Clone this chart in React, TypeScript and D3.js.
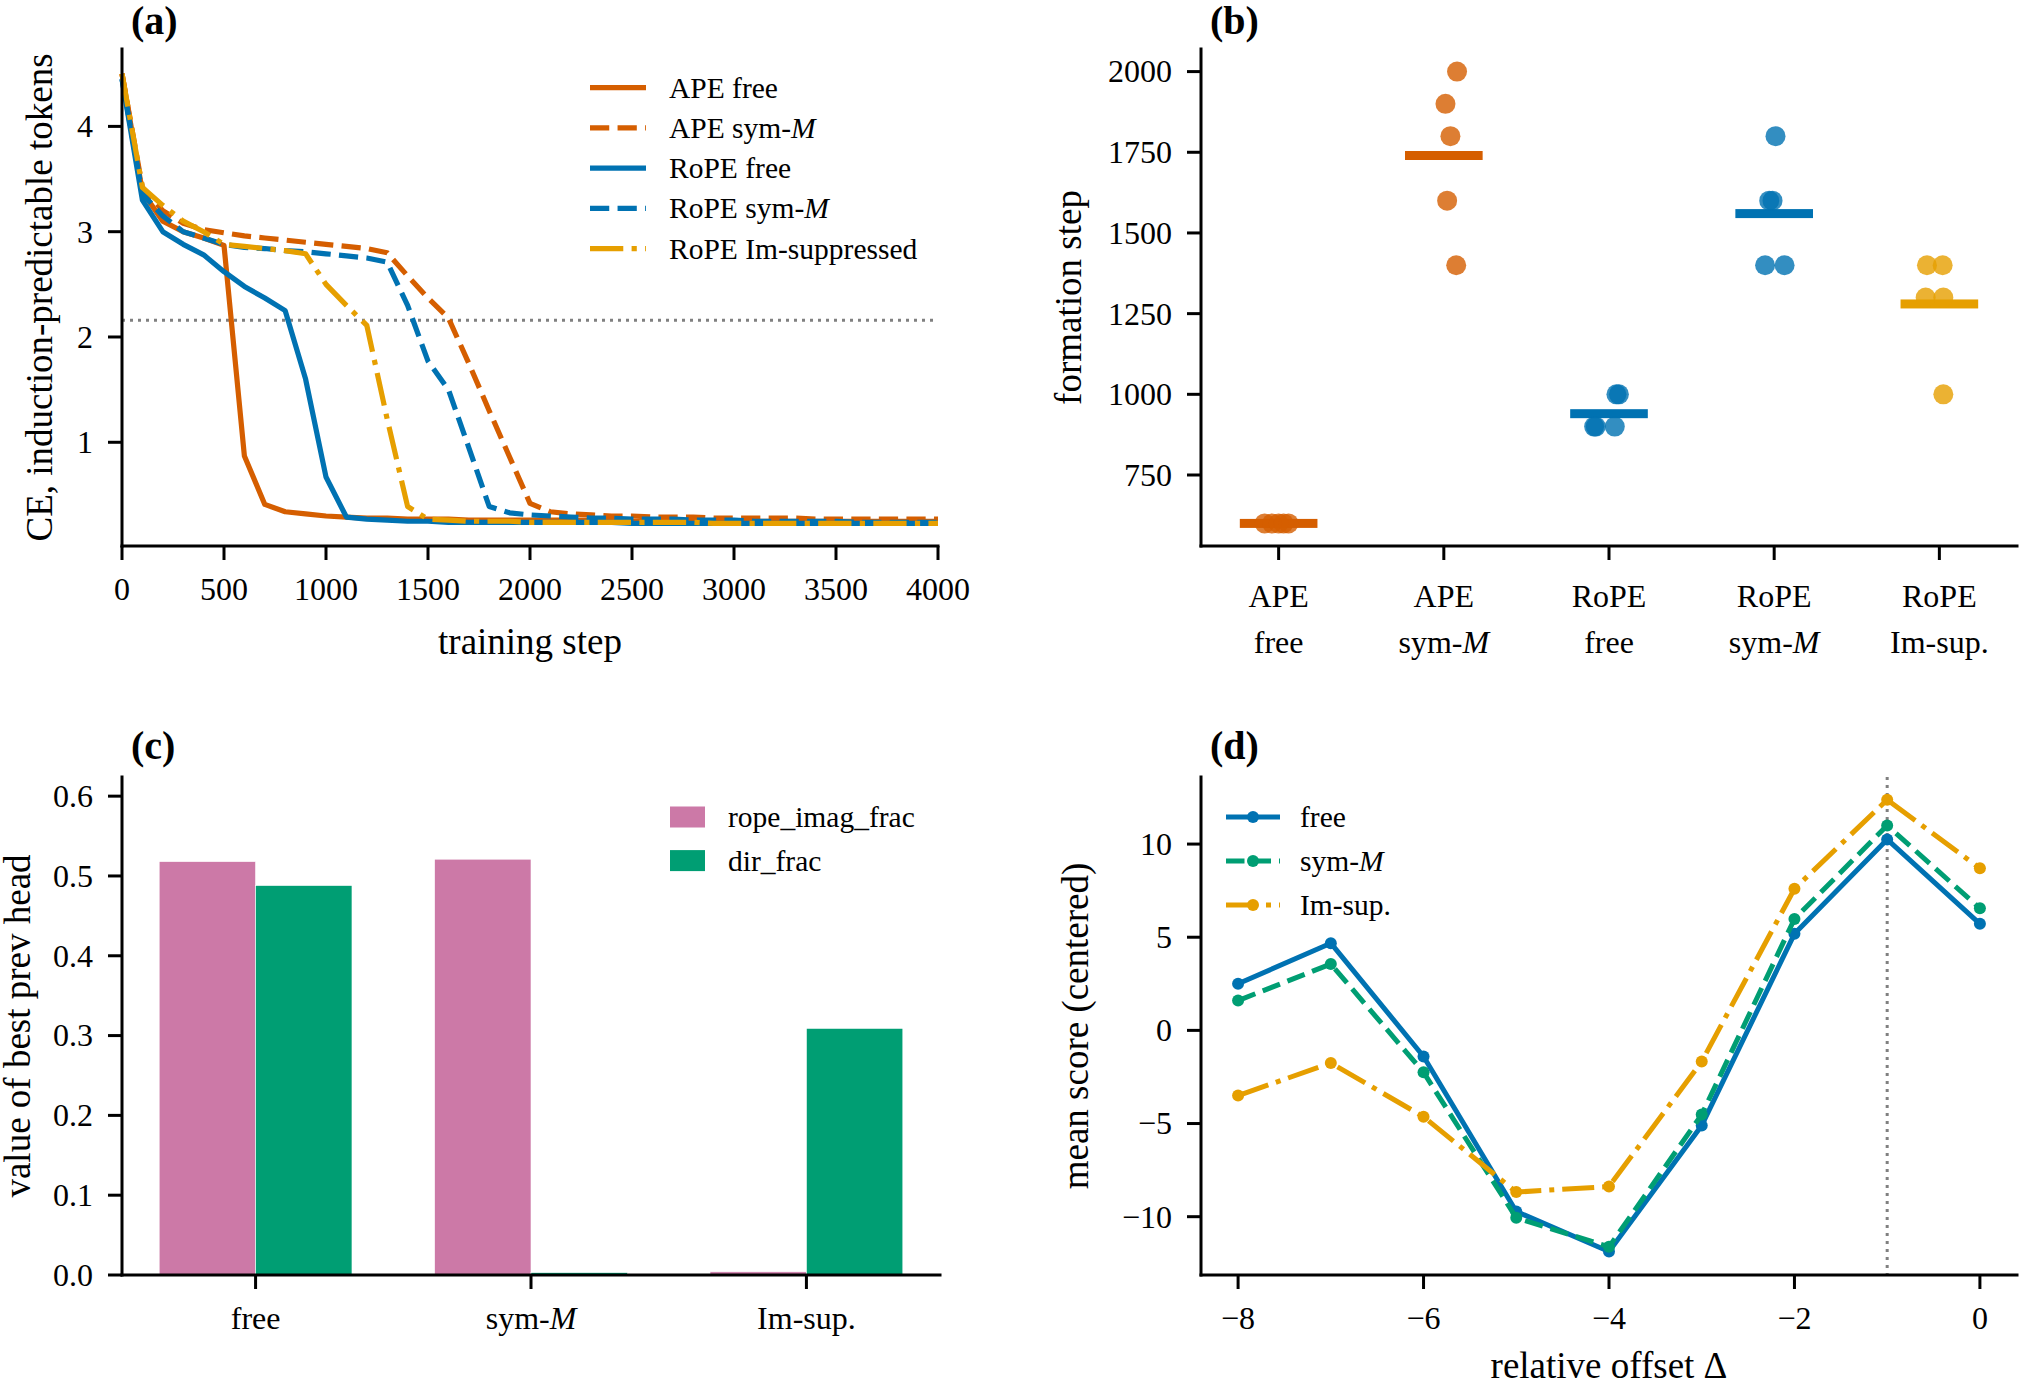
import React from 'react';
import * as d3 from 'd3';

const W = 2020;
const H = 1381;
const FONT = '"Liberation Serif", "Times New Roman", serif';

const ORANGE = '#D55E00';
const BLUE = '#0072B2';
const YELLOW = '#E69F00';
const GREEN = '#009E73';
const PINK = '#CC79A7';
const GRAY = '#808080';

// ---- (a) CE on induction-predictable tokens vs training step
const steps = d3.range(0, 4001, 100);
const apeFree = [4.5, 3.38, 3.1, 3.0, 2.94, 2.87, 0.87, 0.41, 0.34, 0.32, 0.3, 0.29, 0.28, 0.28, 0.27, 0.27, 0.27,
  0.26, 0.26, 0.26, 0.26, 0.26, 0.26, 0.26, 0.26, 0.25, 0.25, 0.25, 0.25, 0.25, 0.25, 0.25, 0.25, 0.25, 0.25, 0.25,
  0.25, 0.25, 0.25, 0.25, 0.25];
const apeSym = [4.5, 3.42, 3.2, 3.08, 3.02, 2.99, 2.96, 2.94, 2.92, 2.9, 2.88, 2.86, 2.84, 2.8, 2.58, 2.37, 2.18, 1.75,
  1.3, 0.86, 0.42, 0.34, 0.32, 0.31, 0.3, 0.3, 0.29, 0.29, 0.29, 0.28, 0.28, 0.28, 0.28, 0.28, 0.27, 0.27, 0.27, 0.27,
  0.27, 0.27, 0.27];
const ropeFree = [4.45, 3.3, 3.0, 2.88, 2.78, 2.62, 2.48, 2.37, 2.25, 1.6, 0.67, 0.29, 0.27, 0.26, 0.25, 0.25, 0.24,
  0.24, 0.24, 0.24, 0.24, 0.24, 0.24, 0.24, 0.24, 0.23, 0.23, 0.23, 0.23, 0.23, 0.23, 0.23, 0.23, 0.23, 0.23, 0.23,
  0.23, 0.23, 0.23, 0.23, 0.23];
const ropeSym = [4.45, 3.36, 3.15, 3.0, 2.94, 2.88, 2.85, 2.84, 2.82, 2.81, 2.79, 2.77, 2.75, 2.71, 2.3, 1.77, 1.5,
  0.95, 0.39, 0.33, 0.31, 0.3, 0.29, 0.28, 0.28, 0.27, 0.27, 0.27, 0.26, 0.26, 0.26, 0.25, 0.25, 0.25, 0.25, 0.25,
  0.24, 0.24, 0.24, 0.24, 0.24];
const ropeImSup = [4.5, 3.42, 3.25, 3.1, 3.0, 2.88, 2.86, 2.84, 2.82, 2.79, 2.5, 2.3, 2.11, 1.22, 0.39, 0.27, 0.26,
  0.25, 0.25, 0.25, 0.24, 0.24, 0.24, 0.24, 0.24, 0.24, 0.24, 0.24, 0.24, 0.23, 0.23, 0.23, 0.23, 0.23, 0.23, 0.23,
  0.23, 0.23, 0.23, 0.23, 0.23];
const ceThreshold = 2.16;
const stepTicks = [0, 500, 1000, 1500, 2000, 2500, 3000, 3500, 4000];
const ceTicks = [1, 2, 3, 4];

// ---- (b) formation step per run
const formationLabels = [['APE', 'free'], ['APE', 'sym-M'], ['RoPE', 'free'], ['RoPE', 'sym-M'], ['RoPE', 'Im-sup.']];
const formationSteps = [
  [600, 600, 600, 600, 600],
  [2000, 1900, 1800, 1600, 1400],
  [1000, 1000, 900, 900, 900],
  [1800, 1600, 1600, 1400, 1400],
  [1400, 1400, 1300, 1300, 1000],
];
const formationJitter = [
  [-0.085, -0.04, 0.0, 0.03, 0.06],
  [0.08, 0.01, 0.04, 0.02, 0.075],
  [0.06, 0.045, -0.09, 0.035, -0.08],
  [0.008, -0.03, -0.01, -0.055, 0.063],
  [-0.075, 0.02, -0.083, 0.024, 0.024],
];
const formationColors = [ORANGE, ORANGE, BLUE, BLUE, YELLOW];
const formationTicks = [750, 1000, 1250, 1500, 1750, 2000];

// ---- (c) best prev head
const headGroups = ['free', 'sym-M', 'Im-sup.'];
const ropeImagFrac = [0.518, 0.521, 0.004];
const dirFrac = [0.488, 0.003, 0.309];
const fracTicks = [0, 0.1, 0.2, 0.3, 0.4, 0.5, 0.6];

// ---- (d) mean score vs relative offset
const offsets = [-8, -7, -6, -5, -4, -3, -2, -1, 0];
const scoreFree = [2.5, 4.68, -1.4, -9.72, -11.87, -5.1, 5.18, 10.25, 5.72];
const scoreSym = [1.6, 3.56, -2.25, -10.06, -11.62, -4.52, 5.98, 11.0, 6.55];
const scoreImSup = [-3.5, -1.75, -4.64, -8.68, -8.38, -1.67, 7.6, 12.38, 8.7];
const offsetTicks = [-8, -6, -4, -2, 0];
const scoreTicks = [-10, -5, 0, 5, 10];

const TICK_FS = 32;
const LABEL_FS = 37;
const LEGEND_FS = 29.5;
const LW = 5.2;

const dashFor = (style: string, lw: number) =>
  style === 'dashed' ? `${3.7 * lw} ${1.6 * lw}` : style === 'dashdot' ? `${6.4 * lw} ${1.6 * lw} ${lw} ${1.6 * lw}` : undefined;

const minus = (v: number) => (v < 0 ? '\u2212' + Math.abs(v) : String(v));

// "sym-M" -> M in italics
function Lbl({ text }: { text: string }) {
  if (text.endsWith('-M')) {
    return (
      <>
        {text.slice(0, -1)}
        <tspan fontStyle="italic">M</tspan>
      </>
    );
  }
  return <>{text}</>;
}

interface Box { left: number; right: number; top: number; bottom: number }

function Frame({ box, xTicks, yTicks, fmtY }: {
  box: Box; xTicks: number[]; yTicks: { v: number; y: number }[]; fmtY: (v: number) => string;
}) {
  return (
    <g>
      <line x1={box.left} x2={box.left} y1={box.top} y2={box.bottom} stroke="#000" strokeWidth={3} strokeLinecap="square" />
      <line x1={box.left} x2={box.right} y1={box.bottom} y2={box.bottom} stroke="#000" strokeWidth={3} strokeLinecap="square" />
      {xTicks.map((px, i) => (
        <line key={'x' + i} x1={px} x2={px} y1={box.bottom} y2={box.bottom + 14} stroke="#000" strokeWidth={3} />
      ))}
      {yTicks.map((t, i) => (
        <g key={'y' + i}>
          <line x1={box.left - 14} x2={box.left} y1={t.y} y2={t.y} stroke="#000" strokeWidth={3} />
          <text x={box.left - 29} y={t.y + TICK_FS * 0.34} textAnchor="end" fontSize={TICK_FS}>{fmtY(t.v)}</text>
        </g>
      ))}
    </g>
  );
}

function PanelA() {
  const box = { left: 122, right: 938, top: 49, bottom: 546 };
  const x = d3.scaleLinear().domain([0, 4000]).range([box.left, box.right]);
  const y = d3.scaleLinear().domain([0.015, 4.735]).range([box.bottom, box.top]);
  const line = d3.line<number>().x((_, i) => x(steps[i])).y(d => y(d));
  const curves = [
    { name: 'APE free', values: apeFree, color: ORANGE, style: 'solid' },
    { name: 'APE sym-M', values: apeSym, color: ORANGE, style: 'dashed' },
    { name: 'RoPE free', values: ropeFree, color: BLUE, style: 'solid' },
    { name: 'RoPE sym-M', values: ropeSym, color: BLUE, style: 'dashed' },
    { name: 'RoPE Im-suppressed', values: ropeImSup, color: YELLOW, style: 'dashdot' },
  ];
  return (
    <g>
      <line x1={box.left} x2={box.right} y1={y(ceThreshold)} y2={y(ceThreshold)} stroke={GRAY} strokeWidth={3} strokeDasharray="3 5" />
      {curves.map(c => (
        <path key={c.name} d={line(c.values) ?? ''} fill="none" stroke={c.color} strokeWidth={LW}
          strokeDasharray={dashFor(c.style, LW)} strokeLinejoin="round" />
      ))}
      <Frame box={box} xTicks={stepTicks.map(s => x(s))} yTicks={ceTicks.map(v => ({ v, y: y(v) }))} fmtY={String} />
      {stepTicks.map(s => (
        <text key={s} x={x(s)} y={box.bottom + 54} textAnchor="middle" fontSize={TICK_FS}>{s}</text>
      ))}
      <text x={(box.left + box.right) / 2} y={654} textAnchor="middle" fontSize={LABEL_FS}>training step</text>
      <text transform={`translate(52,${(box.top + box.bottom) / 2}) rotate(-90)`} textAnchor="middle" fontSize={LABEL_FS}>
        CE, induction-predictable tokens
      </text>
      {curves.map((c, i) => {
        const ry = 87.6 + i * 40.25;
        return (
          <g key={'lg' + c.name}>
            <line x1={590} x2={646} y1={ry} y2={ry} stroke={c.color} strokeWidth={LW} strokeDasharray={dashFor(c.style, LW)} />
            <text x={669} y={ry + LEGEND_FS * 0.34} fontSize={LEGEND_FS}><Lbl text={c.name} /></text>
          </g>
        );
      })}
      <text x={131} y={34} fontSize={40} fontWeight="bold">(a)</text>
    </g>
  );
}

function PanelB() {
  const box = { left: 1201, right: 2017, top: 49, bottom: 546 };
  const x = d3.scaleLinear().domain([-0.47, 4.47]).range([box.left, box.right]);
  const y = d3.scaleLinear().domain([530, 2070]).range([box.bottom, box.top]);
  return (
    <g>
      {formationSteps.map((vals, i) => {
        const m = d3.mean(vals) ?? 0;
        return (
          <g key={i}>
            <rect x={x(i - 0.235)} width={x(i + 0.235) - x(i - 0.235)} y={y(m) - 4.5} height={9} fill={formationColors[i]} />
            {vals.map((v, j) => (
              <circle key={j} cx={x(i + formationJitter[i][j])} cy={y(v)} r={10} fill={formationColors[i]} fillOpacity={0.8} />
            ))}
          </g>
        );
      })}
      <Frame box={box} xTicks={formationLabels.map((_, i) => x(i))} yTicks={formationTicks.map(v => ({ v, y: y(v) }))} fmtY={String} />
      {formationLabels.map((lines, i) => (
        <g key={'xl' + i}>
          <text x={x(i)} y={607} textAnchor="middle" fontSize={TICK_FS}>{lines[0]}</text>
          <text x={x(i)} y={653} textAnchor="middle" fontSize={TICK_FS}><Lbl text={lines[1]} /></text>
        </g>
      ))}
      <text transform={`translate(1081,${(box.top + box.bottom) / 2}) rotate(-90)`} textAnchor="middle" fontSize={LABEL_FS}>
        formation step
      </text>
      <text x={1210} y={34} fontSize={40} fontWeight="bold">(b)</text>
    </g>
  );
}

function PanelC() {
  const box = { left: 122, right: 940, top: 777, bottom: 1275 };
  const x = d3.scaleLinear().domain([-0.485, 2.485]).range([box.left, box.right]);
  const y = d3.scaleLinear().domain([0, 0.624]).range([box.bottom, box.top]);
  const bw = 0.35;
  const series = [
    { name: 'rope_imag_frac', values: ropeImagFrac, color: PINK, shift: -bw },
    { name: 'dir_frac', values: dirFrac, color: GREEN, shift: 0 },
  ];
  return (
    <g>
      {series.map(s => s.values.map((v, i) => (
        <rect key={s.name + i} x={x(i + s.shift)} width={x(i + s.shift + bw) - x(i + s.shift)} y={y(v)}
          height={y(0) - y(v)} fill={s.color} stroke="#fff" strokeWidth={0.6} />
      )))}
      <Frame box={box} xTicks={headGroups.map((_, i) => x(i))} yTicks={fracTicks.map(v => ({ v, y: y(v) }))} fmtY={v => v.toFixed(1)} />
      {headGroups.map(g => (
        <text key={g} x={x(headGroups.indexOf(g))} y={box.bottom + 54} textAnchor="middle" fontSize={TICK_FS}><Lbl text={g} /></text>
      ))}
      <text transform={`translate(30,${(box.top + box.bottom) / 2}) rotate(-90)`} textAnchor="middle" fontSize={LABEL_FS}>
        value of best prev head
      </text>
      {series.map((s, i) => {
        const ry = 817 + i * 43.6;
        return (
          <g key={'lg' + s.name}>
            <rect x={670} y={ry - 10.5} width={35} height={21} fill={s.color} />
            <text x={728} y={ry + LEGEND_FS * 0.34} fontSize={LEGEND_FS}>{s.name}</text>
          </g>
        );
      })}
      <text x={131} y={759} fontSize={40} fontWeight="bold">(c)</text>
    </g>
  );
}

function PanelD() {
  const box = { left: 1201, right: 2017, top: 777, bottom: 1275 };
  const x = d3.scaleLinear().domain([-8.4, 0.4]).range([box.left, box.right]);
  const y = d3.scaleLinear().domain([-13.13, 13.6]).range([box.bottom, box.top]);
  const lw = 5;
  const line = d3.line<number>().x((_, i) => x(offsets[i])).y(d => y(d));
  const series = [
    { name: 'free', values: scoreFree, color: BLUE, style: 'solid' },
    { name: 'sym-M', values: scoreSym, color: GREEN, style: 'dashed' },
    { name: 'Im-sup.', values: scoreImSup, color: YELLOW, style: 'dashdot' },
  ];
  return (
    <g>
      <line x1={x(-1)} x2={x(-1)} y1={box.top} y2={box.bottom} stroke={GRAY} strokeWidth={3} strokeDasharray="3 5" />
      {series.map(s => (
        <g key={s.name}>
          <path d={line(s.values) ?? ''} fill="none" stroke={s.color} strokeWidth={lw}
            strokeDasharray={dashFor(s.style, lw)} strokeLinejoin="round" />
          {s.values.map((v, i) => (
            <circle key={i} cx={x(offsets[i])} cy={y(v)} r={6} fill={s.color} />
          ))}
        </g>
      ))}
      <Frame box={box} xTicks={offsetTicks.map(v => x(v))} yTicks={scoreTicks.map(v => ({ v, y: y(v) }))} fmtY={minus} />
      {offsetTicks.map(v => (
        <text key={v} x={x(v)} y={box.bottom + 54} textAnchor="middle" fontSize={TICK_FS}>{minus(v)}</text>
      ))}
      <text x={(box.left + box.right) / 2} y={1378} textAnchor="middle" fontSize={LABEL_FS}>relative offset Δ</text>
      <text transform={`translate(1088,${(box.top + box.bottom) / 2}) rotate(-90)`} textAnchor="middle" fontSize={LABEL_FS}>
        mean score (centered)
      </text>
      {series.map((s, i) => {
        const ry = 817 + i * 44;
        return (
          <g key={'lg' + s.name}>
            <line x1={1226} x2={1280} y1={ry} y2={ry} stroke={s.color} strokeWidth={lw} strokeDasharray={dashFor(s.style, lw)} />
            <circle cx={1253} cy={ry} r={6} fill={s.color} />
            <text x={1300} y={ry + LEGEND_FS * 0.34} fontSize={LEGEND_FS}><Lbl text={s.name} /></text>
          </g>
        );
      })}
      <text x={1210} y={759} fontSize={40} fontWeight="bold">(d)</text>
    </g>
  );
}

export default function App() {
  return (
    <>
      <style>{'body{margin:0}'}</style>
      <svg width={W} height={H} viewBox={`0 0 ${W} ${H}`} style={{ display: 'block', background: '#fff' }}
        fontFamily={FONT} fill="#000">
        <PanelA />
        <PanelB />
        <PanelC />
        <PanelD />
      </svg>
    </>
  );
}
